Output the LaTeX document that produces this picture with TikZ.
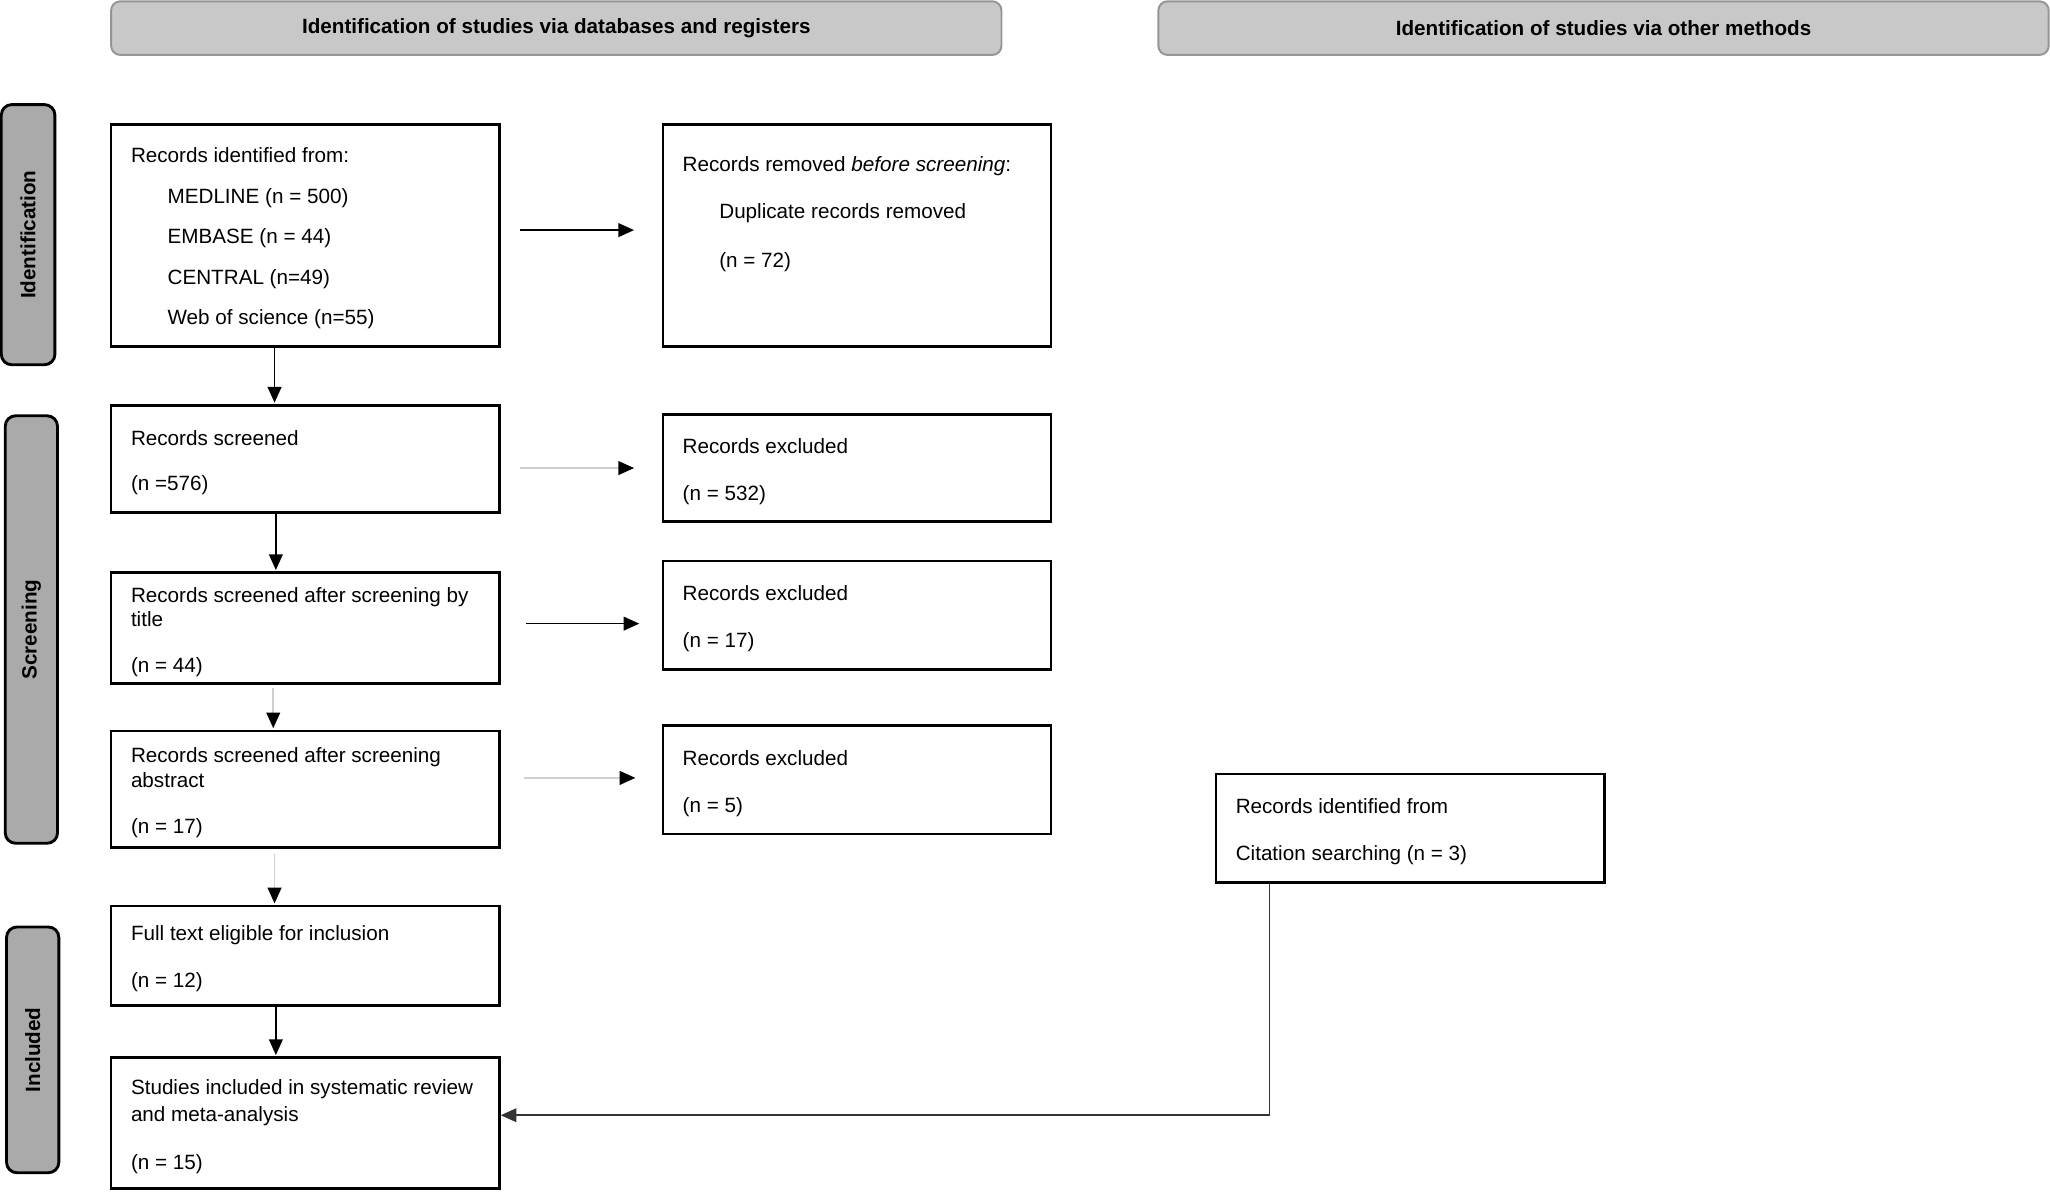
\documentclass[tikz,border=0pt]{standalone}
\usepackage{fontspec}
\setmainfont{Liberation Sans}
\usetikzlibrary{arrows.meta}
\definecolor{hdrfill}{HTML}{C8C8C8}
\definecolor{hdrdraw}{HTML}{959595}
\definecolor{sidefill}{HTML}{AAAAAA}
\definecolor{lightline}{HTML}{CFCFCF}
\tikzset{
  hdr/.style={draw=hdrdraw, line width=1.5pt, fill=hdrfill, rounded corners=7pt, inner sep=0pt, font=\fontsize{15.8}{19}\selectfont\bfseries},
  side/.style={draw=black, line width=2.2pt, fill=sidefill, rounded corners=8pt, inner sep=0pt, rotate=90, font=\fontsize{15.8}{19}\selectfont\bfseries},
  box/.style={draw=black, line width=2pt, fill=white, inner sep=0pt},
  txt/.style={anchor=base west, inner sep=0pt, yshift=-1pt, font=\fontsize{15.8}{19}\selectfont},
  arrD/.style={draw=black, line width=1.2pt, -{Triangle[length=12pt,width=10.5pt]}},
  arrL/.style={draw=lightline, line width=1.2pt, -{Triangle[length=12pt,width=10.5pt,fill=black,color=black]}},
}
\begin{document}
\begin{tikzpicture}[x=1pt,y=-1pt]
\useasboundingbox (0,0) rectangle (1568,911);
% headers
\node[hdr, minimum width=681pt, minimum height=41pt] (hdrA) at (425.5,21.5) {\raisebox{-1pt}{Identification of studies via databases and registers}};
\node[hdr, minimum width=681pt, minimum height=41pt] (hdrB) at (1226.5,21.5) {\raisebox{-1pt}{Identification of studies via other methods}};
% side bars
\node[side, minimum width=199pt, minimum height=41pt] (sideI) at (21.5,179.5) {Identification};
\node[side, minimum width=327pt, minimum height=40pt] (sideS) at (24,481.5) {Screening};
\node[side, minimum width=188pt, minimum height=40pt] (sideN) at (25,803) {Included};
% boxes
\node[box, minimum width=297pt, minimum height=170pt] (ident) at (233.5,180) {};
\node[box, minimum width=297pt, minimum height=170pt] (removed) at (655.5,180) {};
\node[box, minimum width=297pt, minimum height=82pt] (screened) at (233.5,351) {};
\node[box, minimum width=297pt, minimum height=82pt] (excl1) at (655.5,358) {};
\node[box, minimum width=297pt, minimum height=85pt] (title) at (233.5,480.5) {};
\node[box, minimum width=297pt, minimum height=83pt] (excl2) at (655.5,470.5) {};
\node[box, minimum width=297pt, minimum height=89pt] (abstract) at (233.5,603.5) {};
\node[box, minimum width=297pt, minimum height=83pt] (excl3) at (655.5,596.5) {};
\node[box, minimum width=297pt, minimum height=76pt] (fulltext) at (233.5,731) {};
\node[box, minimum width=297pt, minimum height=100pt] (included) at (233.5,859) {};
\node[box, minimum width=297pt, minimum height=83pt] (cit) at (1078.5,633.5) {};
% texts
\node[txt] (t1) at (100,123.5) {Records identified from:};
\node[txt] (t2) at (128,154.5) {MEDLINE (n = 500)};
\node[txt] (t3) at (128,185.5) {EMBASE (n = 44)};
\node[txt] (t4) at (128,216.5) {CENTRAL (n=49)};
\node[txt] (t5) at (128,247.5) {Web of science (n=55)};
\node[txt] (t6) at (522,130.5) {Records removed \textit{before screening}:};
\node[txt] (t7) at (550,166.5) {Duplicate records removed};
\node[txt] (t8) at (550,203.5) {(n = 72)};
\node[txt] (t9) at (100,339.5) {Records screened};
\node[txt] (t10) at (100,374.5) {(n =576)};
\node[txt] (t11) at (522,345.5) {Records excluded};
\node[txt] (t12) at (522,381.5) {(n = 532)};
\node[txt] (t13) at (100,459.5) {Records screened after screening by};
\node[txt] (t14) at (100,478.5) {title};
\node[txt] (t15) at (100,513.5) {(n = 44)};
\node[txt] (t16) at (522,458.5) {Records excluded};
\node[txt] (t17) at (522,494.5) {(n = 17)};
\node[txt] (t18) at (100,582.5) {Records screened after screening};
\node[txt] (t19) at (100,601.5) {abstract};
\node[txt] (t20) at (100,636.5) {(n = 17)};
\node[txt] (t21) at (522,584.5) {Records excluded};
\node[txt] (t22) at (522,620.5) {(n = 5)};
\node[txt] (t23) at (100,718.5) {Full text eligible for inclusion};
\node[txt] (t24) at (100,754.5) {(n = 12)};
\node[txt] (t25) at (100,836.5) {Studies included in systematic review};
\node[txt] (t26) at (100,856.5) {and meta-analysis};
\node[txt] (t27) at (100,893.5) {(n = 15)};
\node[txt] (t28) at (945,621.5) {Records identified from};
\node[txt] (t29) at (945,657.5) {Citation searching (n = 3)};
% horizontal arrows
\draw[arrD, shorten <=15pt, shorten >=21pt] ([yshift=4pt]ident.east) -- ([yshift=4pt]ident.east -| removed.west);
\draw[arrL, shorten <=15pt, shorten >=21pt] (screened.east |- excl1.west) -- (excl1.west);
\draw[arrD, shorten <=19pt, shorten >=17pt] ([yshift=3.5pt]title.east) -- ([yshift=3.5pt]title.east -| excl2.west);
\draw[arrL, shorten <=18pt, shorten >=20pt] ([yshift=1.5pt]abstract.east |- excl3.west) -- ([yshift=1.5pt]excl3.west);
% vertical arrows
\draw[arrD, shorten >=1pt] ([xshift=-23.5pt]ident.south) -- ([xshift=-23.5pt]ident.south |- screened.north);
\draw[arrD, shorten >=1pt] ([xshift=-22.5pt]screened.south) -- ([xshift=-22.5pt]screened.south |- title.north);
\draw[arrL, shorten <=2pt, shorten >=1pt] ([xshift=-24.5pt]title.south) -- ([xshift=-24.5pt]title.south |- abstract.north);
\draw[arrL, shorten <=4pt, shorten >=1pt] ([xshift=-23.5pt]abstract.south) -- ([xshift=-23.5pt]abstract.south |- fulltext.north);
\draw[arrD, shorten >=1pt] ([xshift=-22.5pt]fulltext.south) -- ([xshift=-22.5pt]fulltext.south |- included.north);
% citation connector
\draw[draw=black!80, line width=1.2pt, -{Triangle[length=12pt,width=10.5pt]}] ([xshift=-107.5pt]cit.south) |- ([yshift=6pt]included.east);
\end{tikzpicture}
\end{document}
